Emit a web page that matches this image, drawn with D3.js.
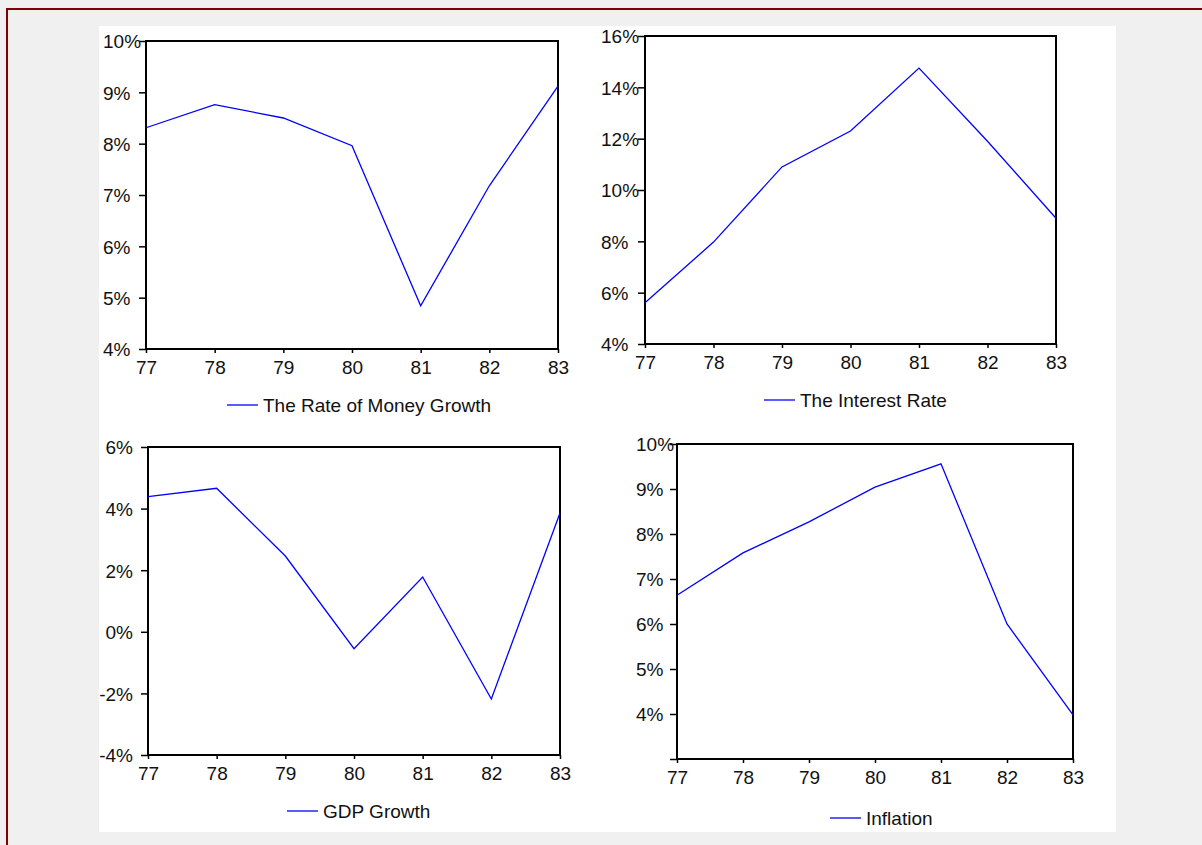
<!DOCTYPE html>
<html>
<head>
<meta charset="utf-8">
<script src="https://cdn.jsdelivr.net/npm/d3@7"></script>
<style>
  html, body { margin: 0; padding: 0; background: #f0f0f0; }
  svg { display: block; }
  text { font-family: "Liberation Sans", Arial, sans-serif; fill: #111; }
</style>
</head>
<body>
<svg id="chart" width="1202" height="845"></svg>
<script>
// ---- data ----
const years = [77, 78, 79, 80, 81, 82, 83];
const yearLabels = ["77", "78", "79", "80", "81", "82", "83"];

const moneyGrowth = [8.31, 8.76, 8.50, 7.96, 4.84, 7.18, 9.12];
const interestRate = [5.61, 7.97, 10.9, 12.3, 14.75, 11.9, 8.9];
const gdpGrowth = [4.39, 4.66, 2.46, -0.55, 1.78, -2.18, 3.86];
const inflation = [6.64, 7.58, 8.27, 9.04, 9.56, 6.0, 3.98];

const moneyTicks = [4, 5, 6, 7, 8, 9, 10];
const moneyTickLabels = ["4%", "5%", "6%", "7%", "8%", "9%", "10%"];
const interestTicks = [4, 6, 8, 10, 12, 14, 16];
const interestTickLabels = ["4%", "6%", "8%", "10%", "12%", "14%", "16%"];
const gdpTicks = [-4, -2, 0, 2, 4, 6];
const gdpTickLabels = ["-4%", "-2%", "0%", "2%", "4%", "6%"];
const inflationTicks = [3, 4, 5, 6, 7, 8, 9, 10];
const inflationTickLabels = ["", "4%", "5%", "6%", "7%", "8%", "9%", "10%"];

const seriesNames = ["The Rate of Money Growth", "The Interest Rate", "GDP Growth", "Inflation"];

// ---- layout ----
const svg = d3.select("#chart");
const FS = 19;

// outer decorations
svg.append("rect").attr("x", 99).attr("y", 26).attr("width", 1017).attr("height", 806).attr("fill", "#ffffff");
svg.append("line").attr("x1", 7).attr("x2", 1202).attr("y1", 9).attr("y2", 9)
  .attr("stroke", "#800000").attr("stroke-width", 2);
svg.append("line").attr("x1", 7).attr("x2", 7).attr("y1", 8).attr("y2", 845)
  .attr("stroke", "#800000").attr("stroke-width", 2);

const panels = [
  { values: moneyGrowth, ticks: moneyTicks, labels: moneyTickLabels, name: seriesNames[0],
    x0: 146, x1: 558, y0: 41, y1: 349, labelAlign: "start", labelX: 103, legX: 227, legY: 405 },
  { values: interestRate, ticks: interestTicks, labels: interestTickLabels, name: seriesNames[1],
    x0: 645, x1: 1056, y0: 36, y1: 344, labelAlign: "start", labelX: 601, legX: 764, legY: 400 },
  { values: gdpGrowth, ticks: gdpTicks, labels: gdpTickLabels, name: seriesNames[2],
    x0: 148, x1: 560, y0: 447, y1: 755, labelAlign: "end", labelX: 133, legX: 287, legY: 811 },
  { values: inflation, ticks: inflationTicks, labels: inflationTickLabels, name: seriesNames[3],
    x0: 677, x1: 1073, y0: 444, y1: 759, labelAlign: "start", labelX: 636, legX: 830, legY: 818 }
];

panels.forEach(p => {
  const g = svg.append("g");
  const x = d3.scaleLinear().domain([years[0], years[years.length - 1]]).range([p.x0, p.x1]);
  const y = d3.scaleLinear().domain([p.ticks[0], p.ticks[p.ticks.length - 1]]).range([p.y1, p.y0]);

  // y axis
  const ya = g.append("g").attr("transform", `translate(${p.x0},0)`)
    .call(d3.axisLeft(y).tickValues(p.ticks).tickFormat((d, i) => p.labels[i]).tickSize(7).tickSizeOuter(0));
  ya.select(".domain").remove();
  ya.selectAll(".tick line").attr("stroke", "#000").attr("stroke-width", 1.5);
  ya.selectAll(".tick text")
    .attr("font-size", FS)
    .attr("font-family", "Liberation Sans, Arial, sans-serif")
    .attr("fill", "#111")
    .attr("text-anchor", p.labelAlign)
    .attr("x", p.labelX - p.x0)
    .attr("dy", "0.36em");

  // x axis
  const xa = g.append("g").attr("transform", `translate(0,${p.y1})`)
    .call(d3.axisBottom(x).tickValues(years).tickFormat((d, i) => yearLabels[i]).tickSize(4).tickSizeOuter(0));
  xa.select(".domain").remove();
  xa.selectAll(".tick line").attr("stroke", "#000").attr("stroke-width", 1.5);
  xa.selectAll(".tick text")
    .attr("font-size", FS)
    .attr("font-family", "Liberation Sans, Arial, sans-serif")
    .attr("fill", "#111")
    .attr("y", 0).attr("dy", 0)
    .attr("transform", "translate(0,25)");

  // frame
  g.append("rect").attr("x", p.x0).attr("y", p.y0)
    .attr("width", p.x1 - p.x0).attr("height", p.y1 - p.y0)
    .attr("fill", "none").attr("stroke", "#000").attr("stroke-width", 2);

  // series line
  const line = d3.line().x((d, i) => x(years[i])).y(d => y(d));
  g.append("path").datum(p.values).attr("d", line)
    .attr("fill", "none").attr("stroke", "#0000ff").attr("stroke-width", 1.3)
    .attr("stroke-linejoin", "miter");

  // legend
  g.append("line").attr("x1", p.legX).attr("x2", p.legX + 31).attr("y1", p.legY).attr("y2", p.legY)
    .attr("stroke", "#0000ff").attr("stroke-width", 1.3);
  g.append("text").attr("x", p.legX + 36).attr("y", p.legY + 7)
    .attr("font-size", FS).text(p.name);
});
</script>
</body>
</html>
